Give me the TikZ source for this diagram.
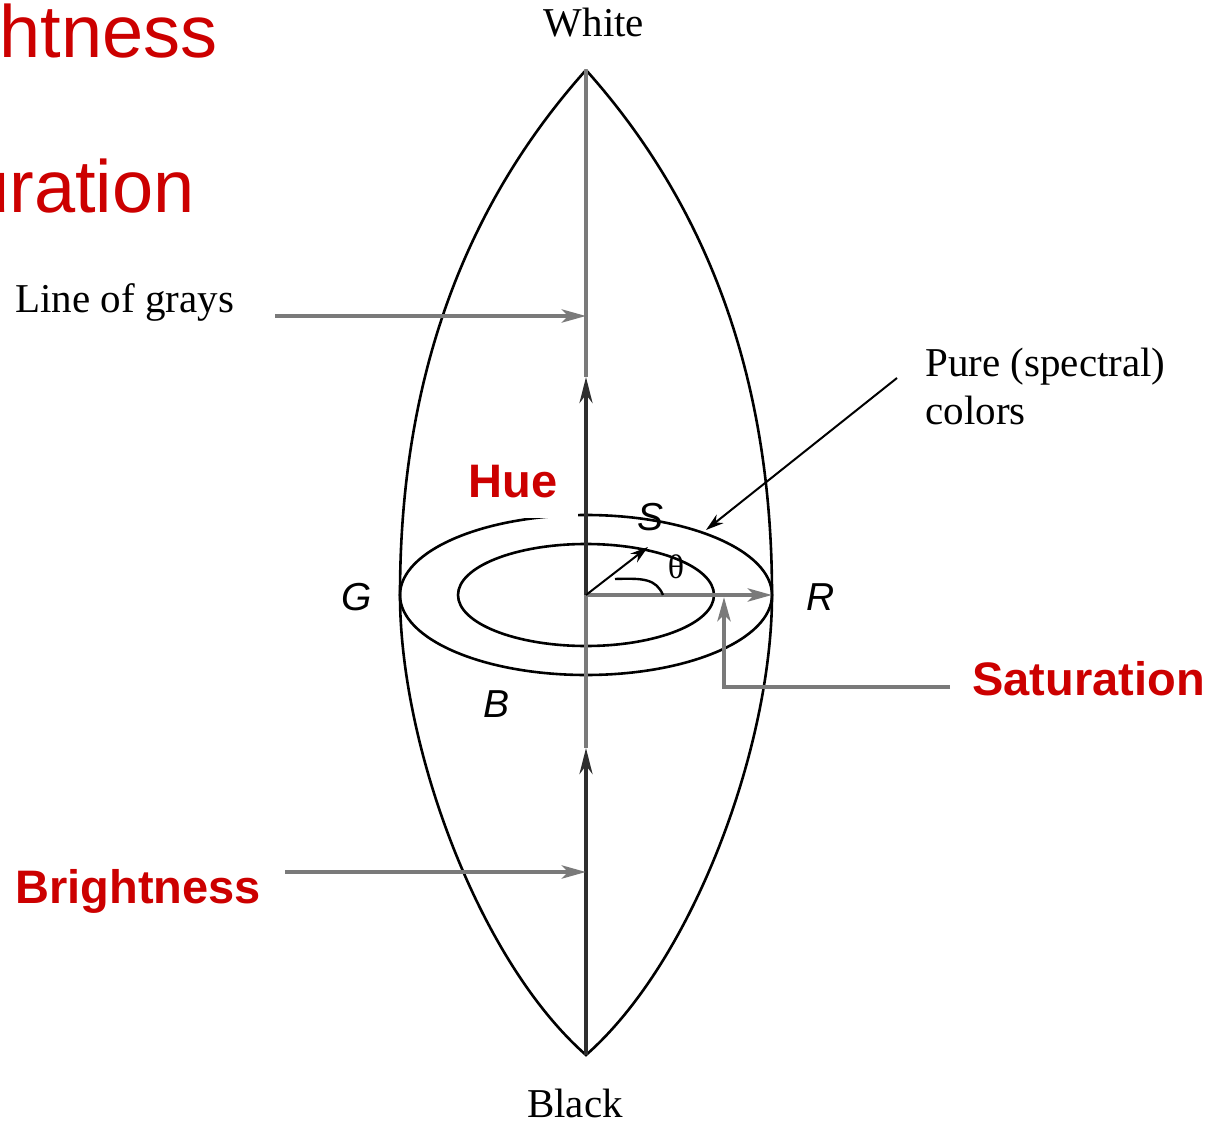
\documentclass[tikz,border=0pt]{standalone}
\usepackage{fontspec}
\setmainfont{Liberation Serif}
\newfontfamily\arialf{Liberation Sans}
\usetikzlibrary{arrows.meta}
\definecolor{slred}{HTML}{CC0000}
\definecolor{arrgray}{HTML}{7A7A7A}
\definecolor{axdark}{HTML}{2E2E2E}
\tikzset{
  lens/.style={line width=1.3pt, black},
  axisgray/.style={line width=2pt, arrgray},
  axisdark/.style={line width=2pt, axdark, -{Stealth[length=13pt,width=6.5pt]}},
  grayarrow/.style={line width=2.2pt, arrgray, -{Stealth[length=12pt,width=6.5pt,inset=3pt,fill=axdark]}},
  thinarrow/.style={line width=1pt, black, -{Stealth[length=9pt,width=5.5pt]}},
  serif/.style={font=\fontsize{20.5pt}{24pt}\selectfont, inner sep=0pt},
  redbold/.style={text=slred, font=\arialf\bfseries\fontsize{23.5pt}{28pt}\selectfont, inner sep=0pt},
  redbig/.style={text=slred, font=\arialf\fontsize{37pt}{44pt}\selectfont, inner sep=0pt},
  letter/.style={font=\arialf\itshape\fontsize{19.5pt}{23pt}\selectfont, inner sep=0pt}
}
\begin{document}
\begin{tikzpicture}[x=0.5pt,y=-0.5pt]
\useasboundingbox (0,0) rectangle (1222,1123);
\clip (0,0) rectangle (1222,1123);
% key points
\coordinate (W) at (586,70);
\coordinate (K) at (586,1055);
\coordinate (G0) at (400,595);
\coordinate (R0) at (772,595);
\coordinate (C) at (586,595);
\coordinate (A1) at (586,377);
\coordinate (A2) at (586,748);
% background slide titles (cut off at the page edge)
\node[redbig, anchor=base east] (tBright) at (218,58) {Brightness};
\node[redbig, anchor=base east] (tSat) at (195,213) {Saturation};
% lens
\draw[lens] (W) .. controls (452,220) and (400,400) .. (G0)
  .. controls (400,745) and (478,960) .. (K)
  .. controls (694,960) and (772,745) .. (R0)
  .. controls (772,400) and (720,220) .. (W);
% ellipses
\draw[lens] (C) ellipse [x radius=93pt, y radius=40pt];
\draw[lens] (C) ellipse [x radius=64pt, y radius=25.5pt];
% Hue label with white box
\node[redbold, fill=white, minimum width=65pt, minimum height=36pt] (hue) at (513,482) {Hue};
% axis
\draw[axisgray] (A1) -- (W);
\draw[axisgray] (A2) -- (C);
\draw[axisdark] (C) -- (A1);
\draw[axisdark] (K) -- (A2);
% texts
\node[serif, anchor=base] (white) at (594,37) {White};
\node[serif, anchor=base] (black) at (575,1117) {Black};
\node[serif, anchor=base west] (grays) at (15,313) {Line of grays};
\node[serif, anchor=base west] (pure) at (925,377) {Pure (spectral)};
\node[serif, anchor=base west] (colors) at (925,425) {colors};
\node[redbold, anchor=base west] (sat) at (972,695) {Saturation};
\node[redbold, anchor=base west] (bright) at (15,903) {Brightness};
\node[letter] (G) at (357,597) {G};
\node[letter] (R) at (821,597) {R};
\node[letter] (S) at (651,517) {S};
\node[letter] (B) at (497,704) {B};
\node[font=\fontsize{17pt}{20pt}\selectfont, inner sep=0pt] (theta) at (676,567) {θ};
% gray arrows
\coordinate (grS) at (275,316);
\coordinate (grE) at (586,316);
\draw[grayarrow] (grS) -- (grE);
\coordinate (brS) at (285,872);
\coordinate (brE) at (586,872);
\draw[grayarrow] (brS) -- (brE);
% saturation connector
\coordinate (satS) at (950,687);
\coordinate (satT) at (724,597);
\draw[grayarrow] (satS) -| (satT);
% radius to R
\draw[grayarrow] (C) -- (R0);
% S vector
\coordinate (Sv) at (648,547);
\draw[thinarrow] (C) -- (Sv);
% theta arc
\coordinate (th1) at (663,595);
\coordinate (th2) at (615,579);
\draw[line width=1.2pt] (th1) .. controls (656,579) and (644,578) .. (th2);
% pure colors arrow
\coordinate (pcS) at (897,378);
\coordinate (pcE) at (706,530);
\draw[thinarrow] (pcS) -- (pcE);
\end{tikzpicture}
\end{document}
